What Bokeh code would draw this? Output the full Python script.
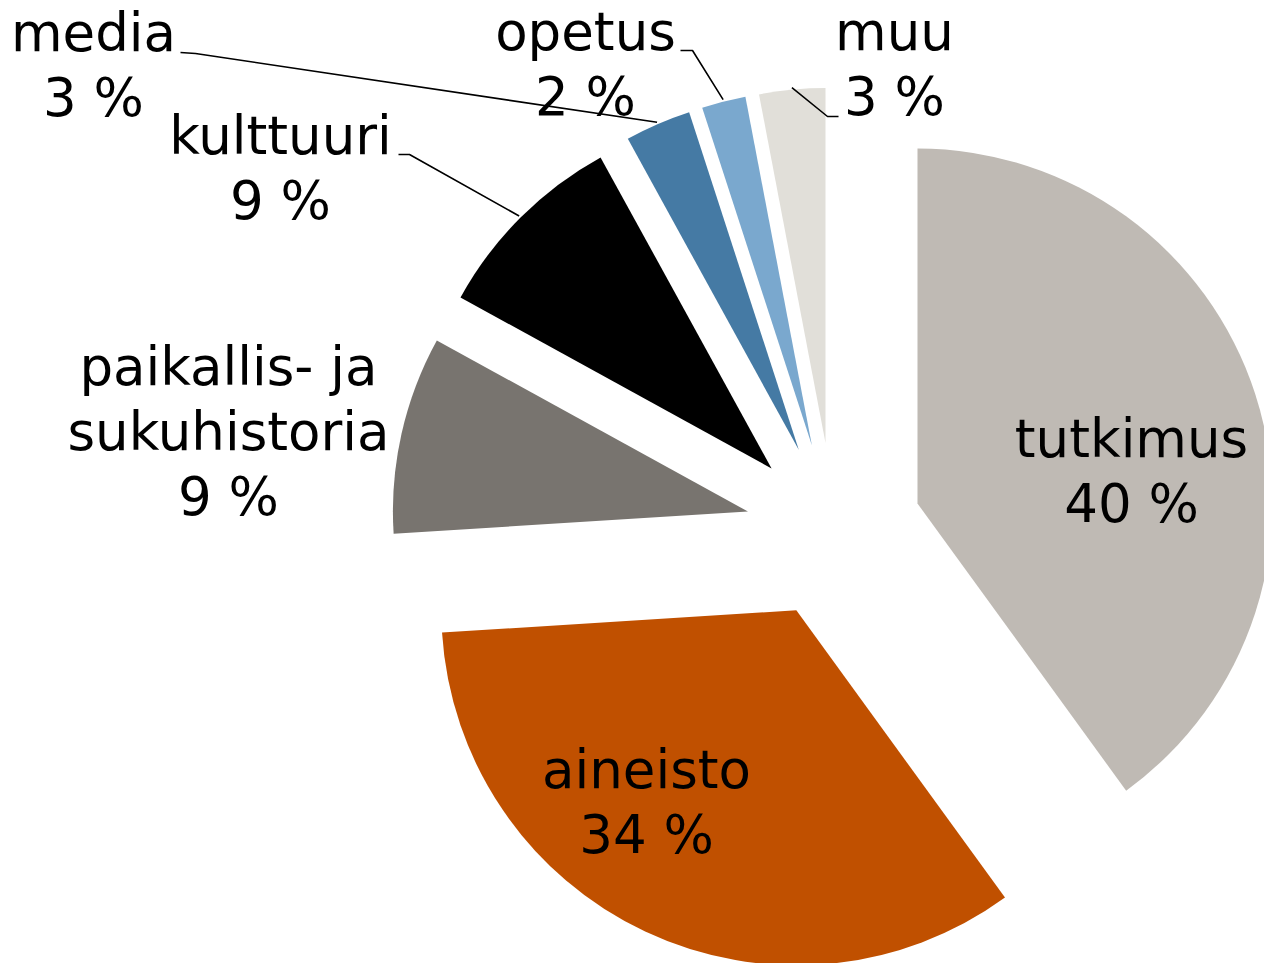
import math
from bokeh.plotting import figure
from bokeh.models import Range1d, ColumnDataSource
from bokeh.embed import file_html
from bokeh.resources import INLINE
from bokeh.core.properties import value

# ---------------- data ----------------
categories = ["tutkimus", "aineisto", "paikallis- ja\nsukuhistoria", "kulttuuri", "media", "opetus", "muu"]
shares = [40, 34, 9, 9, 3, 2, 3]
pct_labels = ["40 %", "34 %", "9 %", "9 %", "3 %", "2 %", "3 %"]
colors = ["#BFBAB4", "#C05000", "#78746F", "#000000", "#457AA4", "#7AA8CE", "#E1DFD9"]

# ---------------- layout (screen pixel coordinates) ----------------
PAGE_W, PAGE_H = 1264, 963
CENTER = (833.3, 530.2)
RADIUS = 355
EXPLODE = 88
FONT_PX = 53
LINE_STEP = 65
TEXT_SHIFT = -20
# first-line baseline anchor of each label (center aligned)
label_anchor = [(1131, 458), (646, 789), (228, 386), (280, 155), (93, 52), (585, 51), (894, 51)]
# leader: (label end point, elbow point) or None
leader_pts = [None, None, None, ((398, 154), (409, 154)), ((180, 52), (195, 53)),
              ((680, 50), (692, 50)), ((838, 116), (827, 116))]


def dy(y):
    return PAGE_H - y


p = figure(width=PAGE_W, height=PAGE_H, output_backend="svg", toolbar_location=None,
           x_range=Range1d(0, PAGE_W), y_range=Range1d(0, PAGE_H),
           x_axis_type=None, y_axis_type=None, min_border=0)
p.outline_line_color = None
p.grid.visible = False
p.background_fill_color = "white"
p.border_fill_color = "white"

total = float(sum(shares))
cx, cy = CENTER[0], dy(CENTER[1])
xs, ys, sa, ea, tips = [], [], [], [], []
cum = 0.0
for v in shares:
    t1 = 360.0 * cum / total
    t2 = 360.0 * (cum + v) / total
    m = math.radians((t1 + t2) / 2)
    x0 = cx + EXPLODE * math.sin(m)
    y0 = cy + EXPLODE * math.cos(m)
    xs.append(x0)
    ys.append(y0)
    sa.append(math.radians(90 - t2))
    ea.append(math.radians(90 - t1))
    tips.append((x0, y0, m))
    cum += v

src = ColumnDataSource(dict(x=xs, y=ys, start=sa, end=ea, color=colors))
p.wedge(x="x", y="y", radius=RADIUS, start_angle="start", end_angle="end",
        direction="anticlock", fill_color="color", line_color=None, source=src)

# leader lines
for i, lp in enumerate(leader_pts):
    if lp is None:
        continue
    x0, y0, m = tips[i]
    r = RADIUS + 2
    ax = x0 + r * math.sin(m)
    ay = y0 + r * math.cos(m)
    (lx, ly), (ex, ey) = lp
    p.line([lx, ex, ax], [dy(ly), dy(ey), ay], line_color="black", line_width=1.6)

# labels
tx, ty, tt = [], [], []
for i, name in enumerate(categories):
    lines = name.split("\n") + [pct_labels[i]]
    ax, ay = label_anchor[i]
    for k, ln in enumerate(lines):
        tx.append(ax)
        ty.append(dy(ay + k * LINE_STEP + TEXT_SHIFT))
        tt.append(ln)
p.text(x=tx, y=ty, text=tt, text_font=value("DejaVu Sans"), text_font_size=f"{FONT_PX}px",
       text_align="center", text_baseline="alphabetic", text_color="black")

open("out.html", "w").write(file_html(p, INLINE))
